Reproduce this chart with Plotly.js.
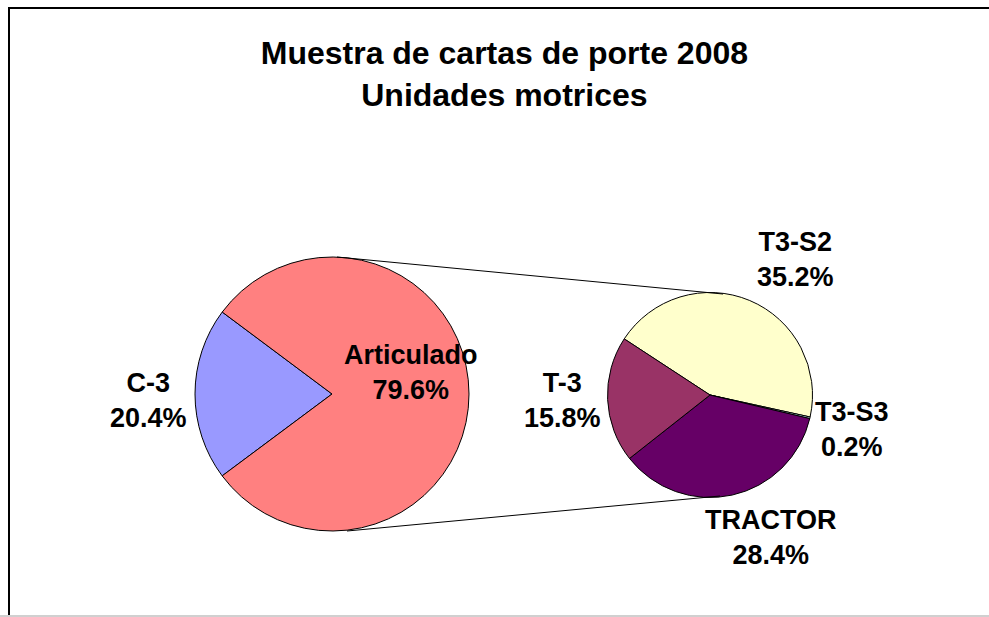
<!DOCTYPE html>
<html>
<head>
<meta charset="utf-8">
<script src="https://cdn.plot.ly/plotly-3.0.1.min.js"></script>
<style>
  html, body { margin: 0; padding: 0; background: #fff; overflow: hidden; }
  #plot { width: 989px; height: 617px; }
</style>
</head>
<body>
<div id="plot"></div>
<script>
// primera torta: C-3 y el grupo "Articulado"
var mainLabels = ['C-3', 'Articulado'];
var mainValues = [20.4, 79.6];
var mainColors = ['#9999FF', '#FF8080'];

// segunda torta: desglose de Articulado (porcentaje sobre el total)
var subLabels = ['T3-S2', 'T3-S3', 'TRACTOR', 'T-3'];
var subValues = [35.2, 0.2, 28.4, 15.8];
var subColors = ['#FFFFCC', '#CCFFFF', '#660066', '#993366'];

var W = 989, H = 617;
function px(x) { return x / W; }
function py(y) { return 1 - y / H; }

var trace1 = {
  type: 'pie',
  labels: mainLabels,
  values: mainValues,
  sort: false,
  direction: 'clockwise',
  rotation: 233.3,
  textinfo: 'none',
  hoverinfo: 'none',
  marker: { colors: mainColors, line: { color: '#000', width: 1 } },
  domain: { x: [px(195), px(469)], y: [py(531), py(257)] },
  showlegend: false
};

var trace2 = {
  type: 'pie',
  labels: subLabels,
  values: subValues,
  sort: false,
  direction: 'clockwise',
  rotation: -56.8,
  textinfo: 'none',
  hoverinfo: 'none',
  marker: { colors: subColors, line: { color: '#000', width: 1 } },
  domain: { x: [px(607.5), px(812.5)], y: [py(497.5), py(292.5)] },
  showlegend: false
};

// donde va cada etiqueta (centro del bloque de texto, en pixeles)
var labelPos = {
  'C-3': [148, 400],
  'Articulado': [411, 372],
  'T3-S2': [795, 259],
  'T3-S3': [852, 429],
  'TRACTOR': [771, 537],
  'T-3': [562, 400]
};

var annotations = [];
mainLabels.concat(subLabels).forEach(function (lab, i) {
  var v = mainValues.concat(subValues)[i];
  var p = labelPos[lab];
  annotations.push({
    xref: 'paper', yref: 'paper',
    x: px(p[0]), y: py(p[1]),
    xanchor: 'center', yanchor: 'middle',
    text: lab + '<br>' + v.toFixed(1) + '%',
    showarrow: false,
    font: { family: 'Liberation Sans, Arial, sans-serif', size: 27, color: '#000', weight: 'bold' }
  });
});

var layout = {
  width: W, height: H,
  margin: { l: 0, r: 0, t: 0, b: 0 },
  paper_bgcolor: '#fff',
  title: {
    text: '<b>Muestra de cartas de porte 2008<br>Unidades motrices</b>',
    font: { family: 'Liberation Sans, Arial, sans-serif', size: 32, color: '#000' },
    x: 0.51, xanchor: 'center',
    y: py(64), yanchor: 'middle'
  },
  annotations: annotations,
  shapes: [
    // marco del grafico: izquierda y arriba
    { type: 'line', xref: 'paper', yref: 'paper', x0: px(9), x1: px(9), y0: py(8), y1: py(615), line: { color: '#000', width: 2 } },
    { type: 'line', xref: 'paper', yref: 'paper', x0: px(8), x1: 1, y0: py(8), y1: py(8), line: { color: '#000', width: 2 } },
    // abajo una linea gris
    { type: 'line', xref: 'paper', yref: 'paper', x0: 0, x1: 1, y0: py(616), y1: py(616), line: { color: '#c0c0c0', width: 1.5 } },
    // lineas que unen las dos tortas
    { type: 'line', xref: 'paper', yref: 'paper', x0: px(337), y0: py(257), x1: px(723), y1: py(294), line: { color: '#000', width: 1 } },
    { type: 'line', xref: 'paper', yref: 'paper', x0: px(347), y0: py(531), x1: px(720), y1: py(496), line: { color: '#000', width: 1 } }
  ]
};

Plotly.newPlot('plot', [trace1, trace2], layout, { staticPlot: true });
</script>
</body>
</html>
